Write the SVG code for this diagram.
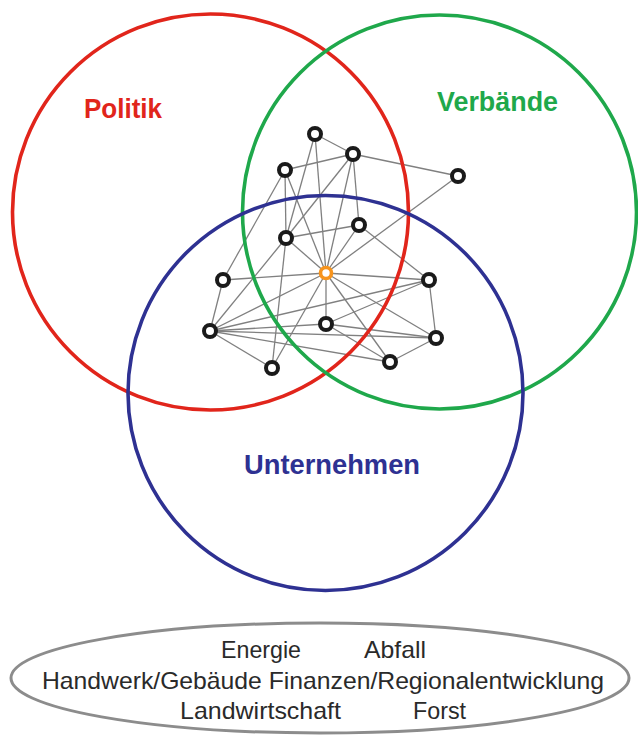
<svg xmlns="http://www.w3.org/2000/svg" width="638" height="737" viewBox="0 0 638 737">
<style>
.edge{stroke:#808080;stroke-width:1.3;fill:none}
.set{fill:none;stroke-width:3.6}
.nd{fill:#fff;stroke:#1a1a1a;stroke-width:4}
.hub{fill:#fff;stroke:#f7941d;stroke-width:3.6}
.lbl{font-family:"Liberation Sans",Arial,sans-serif;font-weight:bold;font-size:28px}
.sec{font-family:"Liberation Sans",Arial,sans-serif;font-size:24px;fill:#2a2a2a}
</style>
<rect width="638" height="737" fill="#fff"/>
<g id="connectors">
<line class="edge" x1="315" y1="134" x2="353" y2="154"/>
<line class="edge" x1="315" y1="134" x2="286" y2="238"/>
<line class="edge" x1="315" y1="134" x2="326" y2="273"/>
<line class="edge" x1="353" y1="154" x2="285" y2="170"/>
<line class="edge" x1="353" y1="154" x2="458" y2="176"/>
<line class="edge" x1="353" y1="154" x2="359" y2="225"/>
<line class="edge" x1="353" y1="154" x2="286" y2="238"/>
<line class="edge" x1="353" y1="154" x2="326" y2="273"/>
<line class="edge" x1="285" y1="170" x2="223" y2="280"/>
<line class="edge" x1="285" y1="170" x2="286" y2="238"/>
<line class="edge" x1="285" y1="170" x2="326" y2="273"/>
<line class="edge" x1="458" y1="176" x2="326" y2="273"/>
<line class="edge" x1="359" y1="225" x2="286" y2="238"/>
<line class="edge" x1="359" y1="225" x2="326" y2="273"/>
<line class="edge" x1="359" y1="225" x2="429" y2="280"/>
<line class="edge" x1="286" y1="238" x2="326" y2="273"/>
<line class="edge" x1="286" y1="238" x2="210" y2="331"/>
<line class="edge" x1="286" y1="238" x2="272" y2="368"/>
<line class="edge" x1="326" y1="273" x2="223" y2="280"/>
<line class="edge" x1="326" y1="273" x2="429" y2="280"/>
<line class="edge" x1="326" y1="273" x2="210" y2="331"/>
<line class="edge" x1="326" y1="273" x2="326" y2="324"/>
<line class="edge" x1="326" y1="273" x2="436" y2="338"/>
<line class="edge" x1="326" y1="273" x2="390" y2="362"/>
<line class="edge" x1="326" y1="273" x2="272" y2="368"/>
<line class="edge" x1="223" y1="280" x2="210" y2="331"/>
<line class="edge" x1="429" y1="280" x2="210" y2="331"/>
<line class="edge" x1="429" y1="280" x2="326" y2="324"/>
<line class="edge" x1="429" y1="280" x2="436" y2="338"/>
<line class="edge" x1="210" y1="331" x2="326" y2="324"/>
<line class="edge" x1="210" y1="331" x2="436" y2="338"/>
<line class="edge" x1="210" y1="331" x2="390" y2="362"/>
<line class="edge" x1="210" y1="331" x2="272" y2="368"/>
<line class="edge" x1="326" y1="324" x2="436" y2="338"/>
<line class="edge" x1="326" y1="324" x2="390" y2="362"/>
<line class="edge" x1="436" y1="338" x2="390" y2="362"/>
</g>
<g id="politik">
<circle class="set" cx="210.5" cy="212" r="198" stroke="#e1251b"/>
<text class="lbl" x="84" y="118" fill="#e1251b" textLength="78" lengthAdjust="spacingAndGlyphs">Politik</text>
</g>
<g id="verbaende">
<circle class="set" cx="439.5" cy="212" r="197" stroke="#1fa84b"/>
<text class="lbl" x="437" y="111" fill="#1fa84b" textLength="121" lengthAdjust="spacingAndGlyphs">Verbände</text>
</g>
<g id="unternehmen">
<circle class="set" cx="325.5" cy="393" r="197.5" stroke="#2e3192"/>
<text class="lbl" x="244" y="474" fill="#2e3192" textLength="176" lengthAdjust="spacingAndGlyphs">Unternehmen</text>
</g>
<g id="nodes">
<circle id="nA" class="nd" cx="315" cy="134" r="6"/>
<circle id="nB" class="nd" cx="353" cy="154" r="6"/>
<circle id="nC" class="nd" cx="285" cy="170" r="6"/>
<circle id="nD" class="nd" cx="458" cy="176" r="6"/>
<circle id="nE" class="nd" cx="359" cy="225" r="6"/>
<circle id="nF" class="nd" cx="286" cy="238" r="6"/>
<circle id="nH" class="nd" cx="223" cy="280" r="6"/>
<circle id="nI" class="nd" cx="429" cy="280" r="6"/>
<circle id="nJ" class="nd" cx="210" cy="331" r="6"/>
<circle id="nK" class="nd" cx="326" cy="324" r="6"/>
<circle id="nL" class="nd" cx="436" cy="338" r="6"/>
<circle id="nM" class="nd" cx="272" cy="368" r="6"/>
<circle id="nN" class="nd" cx="390" cy="362" r="6"/>
<circle id="nG" class="hub" cx="326" cy="273" r="5.5"/>
</g>
<g id="sectors">
<ellipse cx="320" cy="678" rx="309" ry="55" fill="none" stroke="#8c8c8c" stroke-width="3"/>
<text class="sec" x="221" y="658" textLength="80" lengthAdjust="spacingAndGlyphs">Energie</text>
<text class="sec" x="364" y="658" textLength="62" lengthAdjust="spacingAndGlyphs">Abfall</text>
<text class="sec" x="42" y="689" textLength="562" lengthAdjust="spacingAndGlyphs">Handwerk/Gebäude Finanzen/Regionalentwicklung</text>
<text class="sec" x="180" y="719" textLength="161" lengthAdjust="spacingAndGlyphs">Landwirtschaft</text>
<text class="sec" x="413" y="719" textLength="53" lengthAdjust="spacingAndGlyphs">Forst</text>
</g>
</svg>
